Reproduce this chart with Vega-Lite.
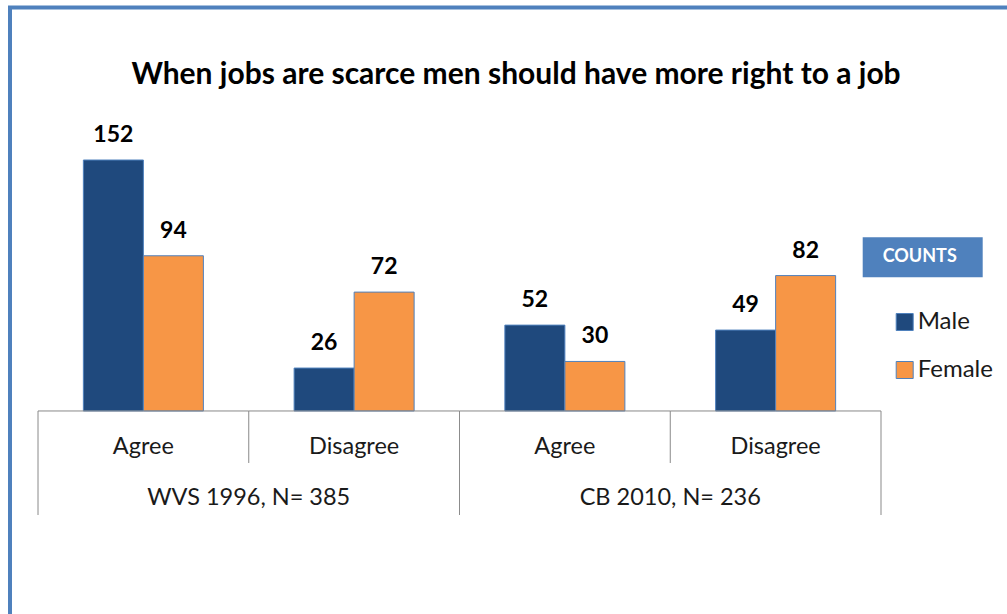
{
  "$schema": "https://vega.github.io/schema/vega-lite/v6.json",
  "width": 997,
  "height": 606.5,
  "autosize": {"type": "none"},
  "padding": {"left": 10, "top": 7.5, "right": 0, "bottom": 0},
  "background": "white",
  "view": {"stroke": "#4f81bd", "strokeWidth": 4, "strokeDash": [997, 1603.5, 606.5]},
  "config": {"font": "Lato"},
  "title": {
    "text": "When jobs are scarce men should have more right to a job",
    "font": "Lato", "fontSize": 30, "fontWeight": "bold", "color": "#000000",
    "anchor": "middle", "frame": "group", "baseline": "alphabetic",
    "offset": -106.5, "dx": 7.5
  },
  "data": {
    "values": [
      {"survey": "WVS 1996, N= 385", "response": "Agree", "key": "WVS Agree", "sex": "Male", "count": 152},
      {"survey": "WVS 1996, N= 385", "response": "Agree", "key": "WVS Agree", "sex": "Female", "count": 94},
      {"survey": "WVS 1996, N= 385", "response": "Disagree", "key": "WVS Disagree", "sex": "Male", "count": 26},
      {"survey": "WVS 1996, N= 385", "response": "Disagree", "key": "WVS Disagree", "sex": "Female", "count": 72},
      {"survey": "CB 2010, N= 236", "response": "Agree", "key": "CB Agree", "sex": "Male", "count": 52},
      {"survey": "CB 2010, N= 236", "response": "Agree", "key": "CB Agree", "sex": "Female", "count": 30},
      {"survey": "CB 2010, N= 236", "response": "Disagree", "key": "CB Disagree", "sex": "Male", "count": 49},
      {"survey": "CB 2010, N= 236", "response": "Disagree", "key": "CB Disagree", "sex": "Female", "count": 82}
    ]
  },
  "layer": [
    {
      "mark": {"type": "bar", "stroke": "#4f81bd", "strokeWidth": 1},
      "encoding": {
        "x": {"field": "key", "type": "nominal", "axis": null,
              "scale": {"domain": ["WVS Agree", "WVS Disagree", "CB Agree", "CB Disagree"], "range": [28, 871], "paddingInner": 0, "paddingOuter": 0}},
        "xOffset": {"field": "sex", "type": "nominal",
                    "scale": {"domain": ["Male", "Female"], "paddingInner": 0, "paddingOuter": 0.756}},
        "y": {"field": "count", "type": "quantitative", "axis": null, "stack": null,
              "scale": {"domain": [-63, 160], "range": [507.5, 139.3], "nice": false, "zero": false}},
        "y2": {"datum": 0},
        "color": {"field": "sex", "type": "nominal",
                  "scale": {"domain": ["Male", "Female"], "range": ["#1f497d", "#f79646"]},
                  "legend": {"title": null, "orient": "none", "legendX": 882.7, "legendY": 302.5,
                             "symbolType": "square", "symbolSize": 289, "symbolStrokeWidth": 1,
                             "labelFont": "Lato", "labelFontSize": 24, "labelColor": "#1a1a1a",
                             "labelOffset": 1, "rowPadding": 24, "padding": 0}}
      }
    },
    {
      "mark": {"type": "text", "baseline": "alphabetic", "dy": -18, "font": "Lato", "fontSize": 23, "fontWeight": "bold", "color": "#000000"},
      "encoding": {
        "x": {"field": "key", "type": "nominal"},
        "xOffset": {"field": "sex", "type": "nominal"},
        "y": {"field": "count", "type": "quantitative"},
        "text": {"field": "count", "type": "quantitative"}
      }
    },
    {
      "transform": [{"filter": "datum.sex === 'Male'"}],
      "mark": {"type": "rule", "color": "#898989", "strokeWidth": 1},
      "encoding": {
        "x": {"field": "key", "type": "nominal", "bandPosition": 0},
        "x2": {"field": "key", "bandPosition": 1},
        "y": {"datum": 0}
      }
    },
    {
      "transform": [{"filter": "datum.sex === 'Male' && datum.response === 'Disagree'"}],
      "mark": {"type": "rule", "color": "#898989", "strokeWidth": 1},
      "encoding": {
        "x": {"field": "key", "type": "nominal", "bandPosition": 0},
        "y": {"datum": 0},
        "y2": {"datum": -31.5}
      }
    },
    {
      "transform": [{"filter": "datum.sex === 'Male' && datum.response === 'Agree'"}],
      "mark": {"type": "rule", "color": "#898989", "strokeWidth": 1},
      "encoding": {
        "x": {"field": "key", "type": "nominal", "bandPosition": 0},
        "y": {"datum": 0},
        "y2": {"datum": -63},
        "strokeDash": {"field": "survey", "type": "nominal",
                       "scale": {"domain": ["WVS 1996, N= 385", "CB 2010, N= 236"], "range": [[1, 0], [1, 0]]},
                       "legend": {"title": null, "direction": "horizontal", "columnPadding": 0,
                                  "labelExpr": "datum.value === 'WVS 1996, N= 385' ? 'COUNTS' : ''",
                                  "orient": "none", "legendX": 852.7, "legendY": 229.8,
                                  "fillColor": "#4f81bd", "padding": 11, "symbolOpacity": 0,
                                  "labelOffset": -9, "labelFont": "Lato", "labelFontSize": 18, "labelFontWeight": "bold",
                                  "labelColor": "#ffffff", "labelLimit": 300}}
      }
    },
    {
      "transform": [{"filter": "datum.sex === 'Male' && datum.key === 'CB Disagree'"}],
      "mark": {"type": "rule", "color": "#898989", "strokeWidth": 1},
      "encoding": {
        "x": {"field": "key", "type": "nominal", "bandPosition": 1},
        "y": {"datum": 0},
        "y2": {"datum": -63}
      }
    },
    {
      "transform": [{"filter": "datum.sex === 'Male'"}],
      "mark": {"type": "text", "baseline": "middle", "font": "Lato", "fontSize": 23.5, "color": "#1a1a1a"},
      "encoding": {
        "x": {"field": "key", "type": "nominal"},
        "y": {"datum": -22},
        "text": {"field": "response", "type": "nominal"}
      }
    },
    {
      "transform": [{"filter": "datum.sex === 'Male' && datum.response === 'Agree'"}],
      "mark": {"type": "text", "baseline": "middle", "font": "Lato", "fontSize": 23.5, "color": "#1a1a1a"},
      "encoding": {
        "x": {"field": "key", "type": "nominal", "bandPosition": 1},
        "y": {"datum": -52.5},
        "text": {"field": "survey", "type": "nominal"}
      }
    }
  ]
}
